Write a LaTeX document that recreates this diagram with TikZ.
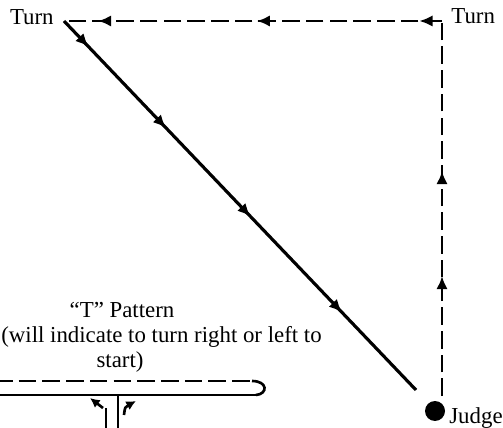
\documentclass[tikz,border=0pt]{standalone}
\usepackage{fontspec}
\setmainfont{Liberation Serif}
\usepackage{tikz}
\usetikzlibrary{positioning,arrows.meta,decorations.markings}

\begin{document}
\begin{tikzpicture}[x=0.02cm,y=-0.02cm,>=Stealth,
    every node/.style={font=\fontsize{13}{14}\selectfont,inner sep=0pt},
    walk/.style={line width=1.8pt},
    trot/.style={line width=1.5pt,dash pattern=on 10pt off 3.5pt},
    arr/.style={postaction={decorate,decoration={markings,
        mark=at position #1 with {\arrow{Latex[length=7.5pt,width=6.5pt]}}}}}]
        \useasboundingbox (0,0) rectangle (503,428);
        % pattern corners
        \coordinate (tl) at (64,21);
        \coordinate (tr) at (442,21);
        \coordinate (bt) at (442,396);
        \coordinate (dend) at (416,390);
        \node[circle,fill=black,minimum size=0.4cm] (judge) at (435,411) {};
        \node[anchor=base west] (judgelbl) at (449,423) {Judge};
        \node[anchor=base east] (turnl) at (54,25) {Turn};
        \node[anchor=base west] (turnr) at (451,24) {Turn};
        \draw[trot,arr=0.32,arr=0.6] (bt) -- (tr);
        \draw[trot,arr=0.06,arr=0.49,arr=0.91] (tr) -- (tl);
        \draw[walk,arr=0.07,arr=0.29,arr=0.53,arr=0.79] (tl) -- (dend);
        % T pattern
        \node[anchor=base] (ttitle) at (122,317) {“T” Pattern};
        \node[anchor=base west] (tline) at (1,342) {(will indicate to turn right or left to};
        \node[anchor=base] (tstart) at (120,367) {start)};
        \draw[trot] (-5,381) -- (252,381);
        \draw[line width=1.6pt] (-5,395) -- (256,395);
        \draw[line width=1.5pt] (252,381) .. controls (268,381) and (268,394) .. (256,395);
        \draw[line width=1.7pt] (118,395) -- (118,430);
        \draw[line width=1.7pt] (106,408) -- (106,430);
        \draw[line width=1.5pt,-{Latex[length=5.5pt,width=5.5pt]}] (103,408) -- (90,398);
        \draw[line width=1.5pt,-{Latex[length=5.5pt,width=5.5pt]}] (124,415) .. controls (125,407) .. (136,401);
      \end{tikzpicture}
\end{document}
